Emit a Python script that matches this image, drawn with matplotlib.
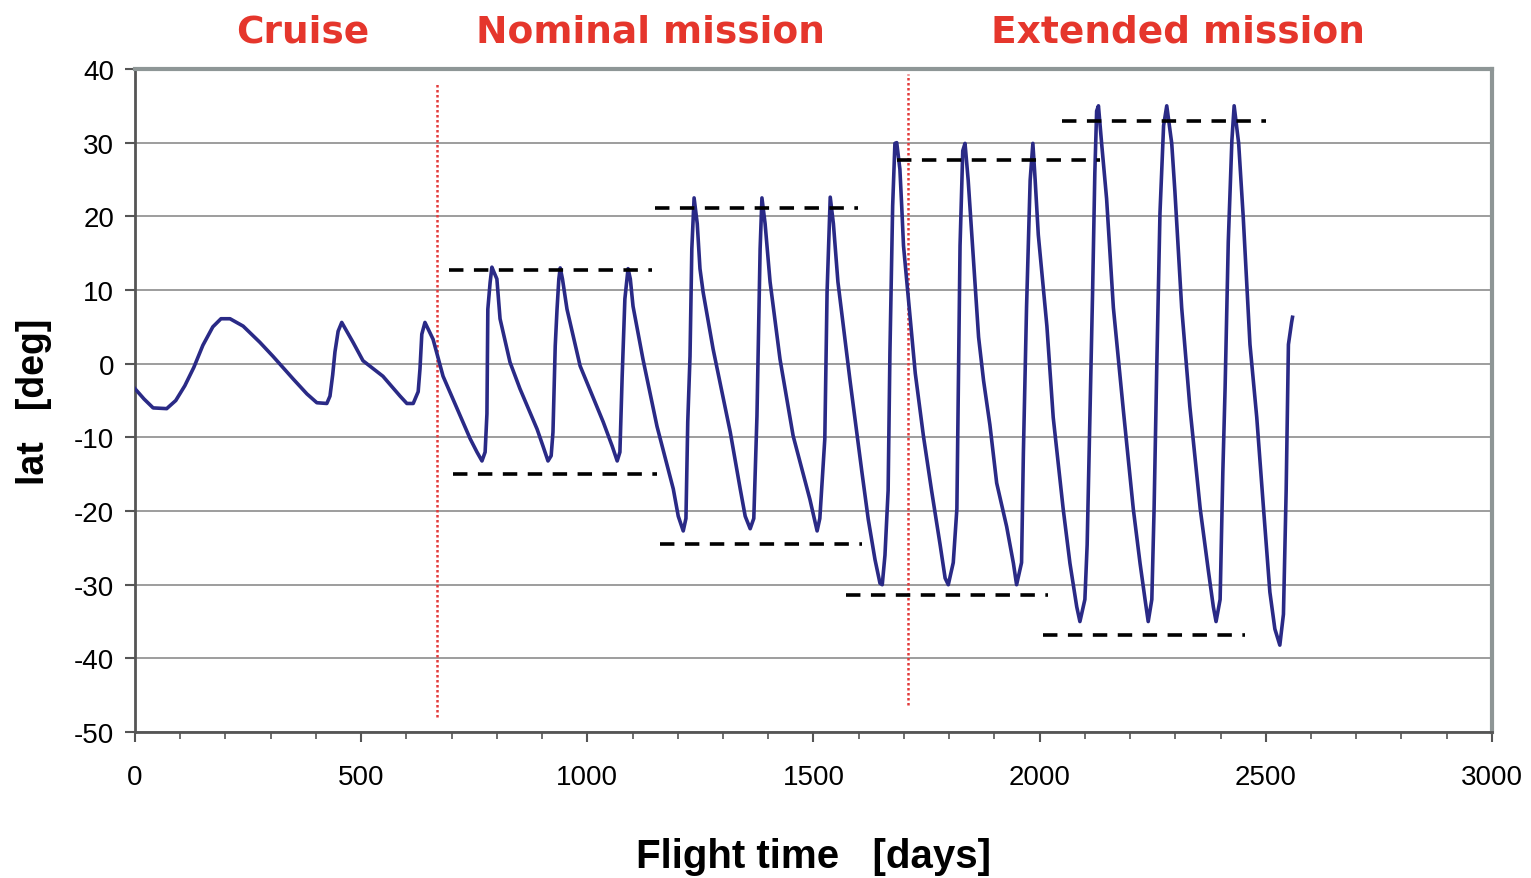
import matplotlib
matplotlib.use("Agg")
import matplotlib.pyplot as plt
from matplotlib.ticker import MultipleLocator

plt.rcParams["axes.unicode_minus"] = False

# latitude history
flight_days = [0, 20, 40, 70, 90, 110, 130, 150, 172, 190, 210, 239, 276, 305, 350, 380, 402, 424,
               431, 437, 442, 449, 457, 482, 504, 548, 586, 601, 615, 626, 630, 634, 641, 659, 681,
               741, 756, 767, 774, 778, 780, 785, 789, 793, 800, 807, 829, 851, 889, 902, 913, 920,
               924, 929, 933, 937, 940, 945, 955, 984, 1035, 1055, 1066, 1072, 1077, 1083, 1090,
               1095, 1101, 1123, 1154, 1190, 1201, 1212, 1218, 1222, 1227, 1231, 1236, 1243, 1249,
               1256, 1278, 1316, 1338, 1349, 1360, 1368, 1375, 1382, 1386, 1393, 1404, 1426, 1455,
               1492, 1508, 1514, 1525, 1530, 1537, 1544, 1554, 1581, 1607, 1621, 1636, 1647, 1652,
               1658, 1665, 1669, 1675, 1680, 1684, 1691, 1695, 1699, 1713, 1725, 1743, 1761, 1780,
               1791, 1798, 1809, 1817, 1820, 1824, 1830, 1835, 1842, 1850, 1865, 1876, 1890, 1905,
               1927, 1942, 1949, 1960, 1964, 1971, 1979, 1985, 1990, 1997, 2016, 2030, 2052, 2067,
               2082, 2089, 2100, 2105, 2111, 2117, 2122, 2126, 2130, 2137, 2148, 2163, 2185, 2207,
               2222, 2233, 2240, 2248, 2253, 2259, 2266, 2274, 2281, 2292, 2299, 2314, 2332, 2355,
               2373, 2384, 2390, 2399, 2405, 2410, 2417, 2425, 2430, 2440, 2450, 2465, 2480, 2495,
               2509, 2520, 2531, 2539, 2545, 2550, 2557, 2559]
latitude = [-3.4, -4.8, -6.0, -6.1, -5.0, -3.0, -0.5, 2.5, 5.0, 6.1, 6.1, 5.1, 2.9, 1.0, -2.1, -4.1, -5.3, -5.4,
            -4.4, -1.5, 1.6, 4.4, 5.6, 2.9, 0.4, -1.7, -4.4, -5.4, -5.4, -3.8, -0.7, 4.0, 5.6, 3.3, -1.7,
            -10.2, -12.0, -13.2, -12.0, -6.8, 7.4, 11.0, 13.1, 12.5, 11.5, 6.1, 0.2, -3.4, -8.9, -11.2, -13.2, -12.5,
            -9.3, 2.4, 7.4, 11.5, 13.0, 11.5, 7.4, -0.3, -7.9, -11.2, -13.2, -12.0, -1.7, 8.8, 12.9,
            11.5, 7.8, 0.6, -8.5, -17.0, -20.7, -22.7, -21.0, -7.9, 1.0, 15.6, 22.5, 19.0, 12.9,
            9.7, 2.0, -9.3, -17.0, -20.7, -22.4, -21.0, -7.1, 15.6, 22.5, 19.0, 11.1, 0.6, -9.8,
            -18.4, -22.7, -21.0, -10.2, 9.7, 22.6, 19.0, 11.1, -2.4, -14.7, -21.1, -26.6, -29.8, -30.0,
            -26.0, -17.2, 1.6, 21.4, 29.9, 30.0, 26.4, 21.4, 16.0, 6.6, -1.3, -9.8, -17.2, -24.6,
            -29.1, -30.0, -27.0, -19.7, -4.8, 16.0, 28.9, 29.9, 24.9, 17.5, 3.6, -2.3, -8.3, -16.2,
            -22.1, -27.1, -30.0, -27.0, -12.2, 7.6, 24.9, 29.9, 25.0, 17.5, 5.1, -7.3, -19.7, -27.1,
            -33.0, -35.0, -32.0, -24.6, -7.3, 9.6, 25.9, 34.3, 35.0, 29.9, 22.4, 7.6, -6.3, -19.7,
            -27.1, -32.0, -35.0, -32.0, -19.7, -0.2, 20.4, 32.3, 35.0, 29.9, 23.4, 7.6, -5.8, -19.7,
            -28.1, -33.0, -35.0, -32.0, -14.7, -3.3, 16.5, 30.3, 35.0, 29.9, 20.0, 2.6, -7.3, -19.7,
            -31.0, -36.0, -38.2, -34.0, -17.2, 2.6, 5.6, 6.3]

# dashed envelope levels: start day, end day, latitude
env_start = [694, 703, 1150, 1161, 1685, 1572, 2050, 2008]
env_end = [1143, 1154, 1599, 1607, 2134, 2019, 2501, 2454]
env_level = [12.7, -15.0, 21.1, -24.5, 27.6, -31.4, 32.9, -36.8]

# phase boundaries
phase_days = [668, 1709]
phase_top = [38.0, 39.3]
phase_bottom = [-48.0, -46.3]
phase_names = ["Cruise", "Nominal mission", "Extended mission"]
phase_label_x = [370, 1140, 2305]

fig = plt.figure(figsize=(15.31, 8.79), dpi=100)
ax = fig.add_axes([0.0882, 0.166, 0.8863, 0.7544])

ax.plot(flight_days, latitude, color="#2a2a86", lw=2.6, zorder=3)

for s, e, lv in zip(env_start, env_end, env_level):
    ax.plot([s, e], [lv, lv], color="black", lw=2.6, dashes=(4, 2.9), zorder=4)

for d, t, b in zip(phase_days, phase_top, phase_bottom):
    ax.plot([d, d], [b, t], color="#e23a3a", lw=1.8, ls=(0, (1, 1)), zorder=2)

for name, xp in zip(phase_names, phase_label_x):
    ax.text(xp, 1.057, name, transform=ax.get_xaxis_transform(), ha="center", va="center",
            fontsize=27, fontweight="bold", color="#e5362c", clip_on=False)

ax.set_xlim(0, 3000)
ax.set_ylim(-50, 40)
ax.xaxis.set_major_locator(MultipleLocator(500))
ax.xaxis.set_minor_locator(MultipleLocator(100))
ax.yaxis.set_major_locator(MultipleLocator(10))
ax.grid(axis="y", color="#8c8c8c", lw=1.2, zorder=0)

ax.spines["left"].set_color("#555555")
ax.spines["bottom"].set_color("#555555")
ax.spines["left"].set_linewidth(2)
ax.spines["bottom"].set_linewidth(2)
ax.spines["top"].set_color("#8e9696")
ax.spines["right"].set_color("#8e9696")
ax.spines["top"].set_linewidth(3)
ax.spines["right"].set_linewidth(3)

ax.tick_params(axis="both", which="major", direction="out", length=7, width=1.5,
               color="#555555", labelsize=20, pad=8)
ax.tick_params(axis="x", which="major", pad=16)
ax.tick_params(axis="x", which="minor", direction="out", length=5, width=1.2, color="#555555")
for lbl in ax.get_xticklabels() + ax.get_yticklabels():
    lbl.set_family("Liberation Sans")

ax.set_xlabel("Flight time   [days]", fontsize=29, fontweight="bold",
              family="Liberation Sans", labelpad=34)
ax.set_ylabel("lat   [deg]", fontsize=27, fontweight="bold",
              family="Liberation Sans", labelpad=16)

fig.savefig("out.png", dpi=100)
